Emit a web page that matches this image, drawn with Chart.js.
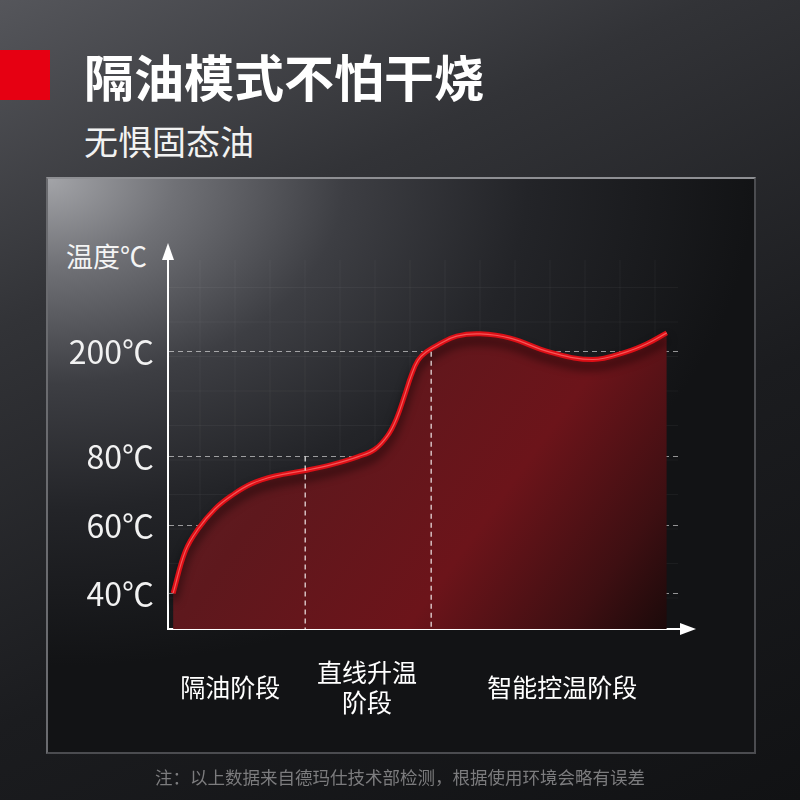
<!DOCTYPE html>
<html lang="zh-CN">
<head>
    <meta charset="UTF-8">
    <title>隔油模式不怕干烧</title>
    <script src="https://cdn.jsdelivr.net/npm/chart.js"></script>
    <style>
        html, body { margin: 0; padding: 0; }
        body {
            width: 800px; height: 800px; position: relative; overflow: hidden;
            background: linear-gradient(155deg, #55565b 0%, #323337 28%, #1b1c1f 62%, #111214 100%);
            font-family: "Noto Sans CJK SC", "Noto Sans", sans-serif;
            color: #fff;
        }
        .redbox { position: absolute; left: 0; top: 50px; width: 50px; height: 50px; background: #e60012; }
        .title { position: absolute; left: 84px; top: 42px; font-size: 50px; font-weight: 700; line-height: 66px; }
        .subtitle { position: absolute; left: 84px; top: 118px; font-size: 34px; font-weight: 400; line-height: 46px; color: #f2f2f2; }
        .panel {
            position: absolute; left: 46px; top: 177px; width: 706px; height: 573px;
            border: 2px solid #4b4c50; border-top-color: #8e8f93; border-left-color: #6a6b6f;
            background: radial-gradient(ellipse 100% 85% at 0% 0%, #a3a4a8 0%, #707176 18%, #3d3e43 42%, #232428 68%, #121315 100%);
        }
        .ylabel { position: absolute; left: 66px; top: 238px; font-size: 27px; line-height: 36px; color: #f4f4f4; }
        .note { position: absolute; left: 0; width: 800px; top: 764px; text-align: center; font-size: 17.5px; color: #7c7c7e; }
        #chart { position: absolute; left: 0; top: 0; }
    </style>
</head>
<body>
    <div class="redbox"></div>
    <div class="title">隔油模式不怕干烧</div>
    <div class="subtitle">无惧固态油</div>
    <div class="panel"></div>
    <div class="ylabel">温度℃</div>
    <canvas id="chart" width="800" height="800"></canvas>
    <div class="note">注：以上数据来自德玛仕技术部检测，根据使用环境会略有误差</div>

    <script>
        // curve: time (0-100 along the x axis) and temperature in ℃
        const timeSteps = [1.0, 3.4, 5.9, 9.2, 12.5, 16.4, 21.0, 26.9, 32.1, 37.3, 40.6, 43.1, 44.8, 46.4,
                           47.7, 49.0, 50.6, 53.3, 56.6, 61.2, 67.1, 74.9, 83.3, 89.9, 93.9, 97.8];
        const temperatures = [40.2, 52.6, 59.1, 64.9, 68.8, 72.2, 74.4, 76.0, 77.7, 80, 88.5, 104.3, 123.4, 150.1,
                              172.9, 190.1, 199.7, 209.2, 218, 220.6, 215.7, 199.7, 191.2, 200, 209.2, 221.7];

        // y axis labels (the axis is not linear, see tickSpots below)
        const tickTemps = [40, 60, 80, 200];
        const tickLabels = ['40℃', '60℃', '80℃', '200℃'];

        // stages along the x axis
        const stageLabels = ['隔油阶段', ['直线升温', '阶段'], '智能控温阶段'];
        const stageCenters = [12.2, 39.0, 77.3];
        const stageBreaks = [26.9, 51.6];
        const stageBreakTemps = [80, 200];

        // where each labelled temperature sits on the drawn axis
        const tickSpots = [0, 1, 2.02, 3.56];

        function posOf(t) {
            for (let i = 1; i < tickTemps.length; i++) {
                if (t <= tickTemps[i] || i === tickTemps.length - 1) {
                    const a = tickTemps[i - 1], b = tickTemps[i];
                    return tickSpots[i - 1] + (t - a) / (b - a) * (tickSpots[i] - tickSpots[i - 1]);
                }
            }
        }

        const Y_MIN = -0.515, Y_MAX = 4.91;

        const curve = timeSteps.map((x, i) => ({ x: x, y: posOf(temperatures[i]) }));

        const dropLines = stageBreaks.map((x, i) => ({
            type: 'line',
            data: [{ x: x, y: posOf(stageBreakTemps[i]) }, { x: x, y: Y_MIN }],
            borderColor: 'rgba(255,255,255,0.9)',
            borderWidth: 1.2,
            borderDash: [5, 4],
            pointRadius: 0,
            fill: false,
            order: 0
        }));

        function fillGradient(context) {
            const chart = context.chart;
            const a = chart.chartArea;
            if (!a) return '#5a1418';
            const g = chart.ctx.createLinearGradient(a.left, a.top, a.right, a.bottom);
            g.addColorStop(0, '#62252a');
            g.addColorStop(0.35, '#5e181d');
            g.addColorStop(0.65, '#6c141a');
            g.addColorStop(0.86, '#3e0f12');
            g.addColorStop(1, '#170909');
            return g;
        }

        // faint square grid behind the curve, arrows at the axis ends, shadow under the line
        const decor = {
            id: 'decor',
            beforeDatasetsDraw(chart) {
                const { ctx, chartArea: a } = chart;
                ctx.save();
                ctx.strokeStyle = 'rgba(255,255,255,0.045)';
                ctx.lineWidth = 1;
                for (let x = a.left + 32; x < a.right; x += 35) {
                    ctx.beginPath(); ctx.moveTo(x, a.top); ctx.lineTo(x, a.bottom); ctx.stroke();
                }
                for (let y = a.bottom - 31; y > a.top; y -= 34.5) {
                    ctx.beginPath(); ctx.moveTo(a.left, y); ctx.lineTo(a.right, y); ctx.stroke();
                }
                ctx.restore();
            },
            beforeDatasetDraw(chart, args) {
                if (args.index === 0) {
                    const ctx = chart.ctx;
                    ctx.save();
                    ctx.shadowColor = 'rgba(0,0,0,0.7)';
                    ctx.shadowBlur = 10;
                    ctx.shadowOffsetY = 7;
                }
            },
            afterDatasetDraw(chart, args) {
                if (args.index === 0) chart.ctx.restore();
            },
            afterDraw(chart) {
                const { ctx, chartArea: a } = chart;
                ctx.save();
                ctx.fillStyle = '#fff';
                ctx.strokeStyle = '#fff';
                ctx.lineWidth = 2;
                ctx.beginPath(); ctx.moveTo(a.left, a.top); ctx.lineTo(a.left, a.top - 4); ctx.stroke();
                ctx.beginPath(); ctx.moveTo(a.right, a.bottom); ctx.lineTo(a.right + 4, a.bottom); ctx.stroke();
                ctx.beginPath();
                ctx.moveTo(a.left, a.top - 17);
                ctx.lineTo(a.left - 6, a.top);
                ctx.lineTo(a.left + 6, a.top);
                ctx.closePath(); ctx.fill();
                ctx.beginPath();
                ctx.moveTo(a.right + 18, a.bottom);
                ctx.lineTo(a.right + 2, a.bottom - 6);
                ctx.lineTo(a.right + 2, a.bottom + 6);
                ctx.closePath(); ctx.fill();
                ctx.restore();
            }
        };

        new Chart(document.getElementById('chart'), {
            type: 'line',
            data: {
                datasets: [
                    {
                        data: curve,
                        borderColor: '#dc0f16',
                        borderWidth: 5,
                        tension: 0.4,
                        pointRadius: 0,
                        fill: 'start',
                        backgroundColor: fillGradient,
                        order: 2
                    },
                    {
                        data: curve,
                        borderColor: 'rgba(255,110,110,0.75)',
                        borderWidth: 1.2,
                        tension: 0.4,
                        pointRadius: 0,
                        fill: false,
                        order: 1
                    },
                    ...dropLines
                ]
            },
            options: {
                responsive: false,
                animation: false,
                events: [],
                layout: { padding: { top: 260, right: 122, left: 0, bottom: 0 } },
                plugins: { legend: { display: false }, tooltip: { enabled: false } },
                scales: {
                    x: {
                        type: 'linear',
                        min: 0,
                        max: 100,
                        afterFit(s) { s.height = 171; },
                        afterBuildTicks(s) { s.ticks = stageCenters.map(v => ({ value: v })); },
                        grid: { display: false },
                        border: { display: true, color: '#ffffff', width: 2 },
                        ticks: {
                            callback: (v, i) => stageLabels[i],
                            color: '#ffffff',
                            font: { family: 'Noto Sans CJK SC', size: 25 },
                            padding: 35,
                            crossAlign: 'center',
                            maxRotation: 0,
                            autoSkip: false
                        }
                    },
                    y: {
                        type: 'linear',
                        min: Y_MIN,
                        max: Y_MAX,
                        afterFit(s) { s.width = 168; },
                        afterBuildTicks(s) { s.ticks = tickSpots.map(v => ({ value: v })); },
                        grid: { color: 'rgba(255,255,255,0.55)', lineWidth: 1, drawTicks: false },
                        border: { display: true, color: '#ffffff', width: 2, dash: [5, 4] },
                        ticks: {
                            callback: (v, i) => tickLabels[i],
                            color: '#f2f2f2',
                            font: { family: 'Noto Sans CJK SC', size: 32, weight: '400' },
                            padding: 14
                        }
                    }
                }
            },
            plugins: [decor]
        });
    </script>
</body>
</html>
